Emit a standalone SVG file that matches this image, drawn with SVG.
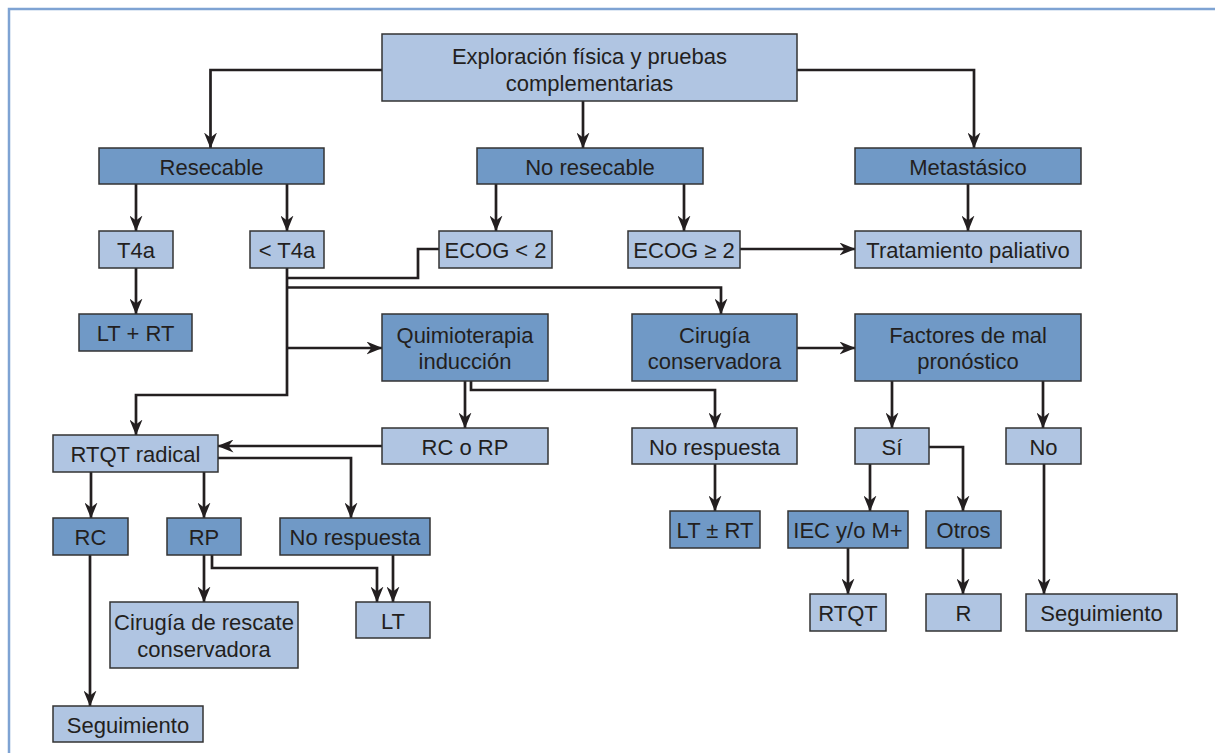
<svg xmlns="http://www.w3.org/2000/svg" width="1215" height="753" viewBox="0 0 1215 753">
<defs>
<marker id="ah" viewBox="0 0 16 13" refX="15.5" refY="6.5" markerWidth="16" markerHeight="13" markerUnits="userSpaceOnUse" orient="auto">
<path d="M0,0 L16,6.5 L0,13 L5,6.5 Z" fill="#231f20"/>
</marker>
</defs>
<style>
.dk{fill:#7099c6;stroke:#333;stroke-width:1.5}
.lt{fill:#b0c5e2;stroke:#333;stroke-width:1.5}
text{font-family:"Liberation Sans",Arial,sans-serif;font-size:22px;fill:#231f20;text-anchor:middle}
.c{fill:none;stroke:#231f20;stroke-width:2.7}
.a{marker-end:url(#ah)}
</style>
<rect x="0" y="0" width="1215" height="753" fill="#fff"/>
<rect x="9" y="9" width="1230" height="770" fill="none" stroke="#7ea3d3" stroke-width="2.5"/>
<g id="connectors">
<path class="c a" d="M382,70 H210.5 V148"/>
<path class="c a" d="M583,101 V148"/>
<path class="c a" d="M797,70 H974 V148"/>
<path class="c a" d="M136,184 V231"/>
<path class="c a" d="M287,184 V231"/>
<path class="c a" d="M496,184 V231"/>
<path class="c a" d="M684,184 V231"/>
<path class="c a" d="M968,184 V231"/>
<path class="c a" d="M740,249 H855"/>
<path class="c a" d="M136,268 V314"/>
<path class="c a" d="M287,268 V395 H136 V435"/>
<path class="c" d="M439,249 H418 V278 H287"/>
<path class="c a" d="M287,287.5 H721 V314"/>
<path class="c a" d="M287,348 H382"/>
<path class="c a" d="M797,348 H855"/>
<path class="c a" d="M465,381 V428"/>
<path class="c a" d="M471,381 V390 H715 V428"/>
<path class="c a" d="M382,446 H218"/>
<path class="c a" d="M218,458 H351 V518"/>
<path class="c a" d="M91,472 V518"/>
<path class="c a" d="M204,472 V518"/>
<path class="c a" d="M715,464 V511"/>
<path class="c a" d="M892,381 V428"/>
<path class="c a" d="M1043,381 V428"/>
<path class="c a" d="M870,464 V511"/>
<path class="c a" d="M929,447 H963 V511"/>
<path class="c a" d="M1044,464 V594"/>
<path class="c a" d="M848,548 V594"/>
<path class="c a" d="M963,548 V594"/>
<path class="c a" d="M90,555 V706"/>
<path class="c a" d="M204,555 V602"/>
<path class="c a" d="M212,555 V568 H377 V602"/>
<path class="c a" d="M393,555 V602"/>
</g>
<g id="n-top"><rect class="lt" x="382" y="34" width="415" height="67"/><text x="589.5" y="64">Exploración física y pruebas</text><text x="589.5" y="91">complementarias</text></g>
<g id="n-resecable"><rect class="dk" x="99" y="148" width="225" height="36"/><text x="211.5" y="175">Resecable</text></g>
<g id="n-noresecable"><rect class="dk" x="477" y="148" width="226" height="36"/><text x="590" y="175">No resecable</text></g>
<g id="n-metastasico"><rect class="dk" x="855" y="148" width="226" height="36"/><text x="968" y="175">Metastásico</text></g>
<g id="n-t4a"><rect class="lt" x="99" y="231" width="74" height="37"/><text x="136" y="258">T4a</text></g>
<g id="n-lt4a"><rect class="lt" x="250" y="231" width="74" height="37"/><text x="287" y="258">&lt; T4a</text></g>
<g id="n-ecog1"><rect class="lt" x="439" y="231" width="113" height="37"/><text x="495.5" y="258">ECOG &lt; 2</text></g>
<g id="n-ecog2"><rect class="lt" x="628" y="231" width="112" height="37"/><text x="684" y="258">ECOG ≥ 2</text></g>
<g id="n-paliativo"><rect class="lt" x="855" y="231" width="226" height="37"/><text x="968" y="258">Tratamiento paliativo</text></g>
<g id="n-ltrt"><rect class="dk" x="79" y="314" width="113" height="37"/><text x="135.5" y="341">LT + RT</text></g>
<g id="n-quimio"><rect class="dk" x="382" y="314" width="166" height="67"/><text x="465" y="343">Quimioterapia</text><text x="465" y="369">inducción</text></g>
<g id="n-cirugia"><rect class="dk" x="632" y="314" width="165" height="67"/><text x="714.5" y="343">Cirugía</text><text x="714.5" y="369">conservadora</text></g>
<g id="n-factores"><rect class="dk" x="855" y="314" width="226" height="67"/><text x="968" y="343">Factores de mal</text><text x="968" y="369">pronóstico</text></g>
<g id="n-rtqtradical"><rect class="lt" x="53" y="435" width="165" height="37"/><text x="135.5" y="462">RTQT radical</text></g>
<g id="n-rcorp"><rect class="lt" x="382" y="428" width="166" height="36"/><text x="465" y="455">RC o RP</text></g>
<g id="n-norespuesta1"><rect class="lt" x="632" y="428" width="165" height="36"/><text x="714.5" y="455">No respuesta</text></g>
<g id="n-si"><rect class="lt" x="855" y="428" width="74" height="36"/><text x="892" y="455">Sí</text></g>
<g id="n-no"><rect class="lt" x="1006" y="428" width="75" height="36"/><text x="1043.5" y="455">No</text></g>
<g id="n-rc"><rect class="dk" x="53" y="518" width="75" height="37"/><text x="90.5" y="545">RC</text></g>
<g id="n-rp"><rect class="dk" x="167" y="518" width="74" height="37"/><text x="204" y="545">RP</text></g>
<g id="n-norespuesta2"><rect class="dk" x="280" y="518" width="150" height="37"/><text x="355" y="545">No respuesta</text></g>
<g id="n-ltprt"><rect class="dk" x="670" y="511" width="90" height="37"/><text x="715" y="538">LT ± RT</text></g>
<g id="n-iec"><rect class="dk" x="788" y="511" width="120" height="37"/><text x="848" y="538">IEC y/o M+</text></g>
<g id="n-otros"><rect class="dk" x="926" y="511" width="75" height="37"/><text x="963.5" y="538">Otros</text></g>
<g id="n-cirrescate"><rect class="lt" x="110" y="602" width="188" height="66"/><text x="204" y="630">Cirugía de rescate</text><text x="204" y="657">conservadora</text></g>
<g id="n-lt"><rect class="lt" x="356" y="602" width="74" height="36"/><text x="393" y="629">LT</text></g>
<g id="n-rtqt"><rect class="lt" x="810" y="594" width="76" height="37"/><text x="848" y="621">RTQT</text></g>
<g id="n-r"><rect class="lt" x="926" y="594" width="75" height="37"/><text x="963.5" y="621">R</text></g>
<g id="n-seguimiento2"><rect class="lt" x="1026" y="594" width="151" height="37"/><text x="1101.5" y="621">Seguimiento</text></g>
<g id="n-seguimiento1"><rect class="lt" x="53" y="706" width="150" height="36"/><text x="128" y="733">Seguimiento</text></g>
</svg>
